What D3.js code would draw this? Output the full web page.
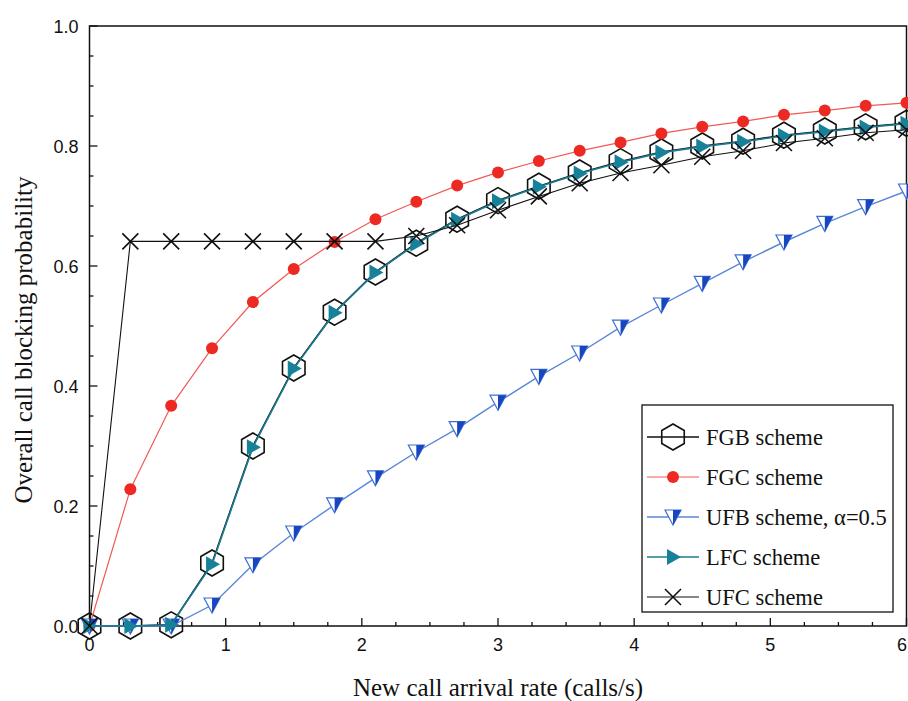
<!DOCTYPE html>
<html>
<head>
<meta charset="utf-8">
<script src="https://cdn.jsdelivr.net/npm/d3@7"></script>
<style>
  html, body { margin: 0; padding: 0; background: #ffffff; }
  svg { display: block; }
</style>
</head>
<body>
<script>
// ---------- data ----------
const xValues = [0, 0.3, 0.6, 0.9, 1.2, 1.5, 1.8, 2.1, 2.4, 2.7, 3.0, 3.3, 3.6, 3.9, 4.2, 4.5, 4.8, 5.1, 5.4, 5.7, 6.0];
const fgb = [0, 0.0, 0.002, 0.105, 0.300, 0.430, 0.523, 0.590, 0.638, 0.678, 0.709, 0.733, 0.755, 0.774, 0.790, 0.800, 0.808, 0.818, 0.825, 0.832, 0.838];
const fgc = [0, 0.228, 0.367, 0.463, 0.540, 0.595, 0.640, 0.678, 0.707, 0.734, 0.756, 0.775, 0.792, 0.806, 0.821, 0.832, 0.841, 0.852, 0.859, 0.867, 0.872];
const ufb = [0, 0.0, 0.0, 0.035, 0.102, 0.155, 0.202, 0.247, 0.290, 0.329, 0.373, 0.416, 0.455, 0.498, 0.535, 0.571, 0.607, 0.640, 0.671, 0.699, 0.725];
const lfc = [0, 0.0, 0.002, 0.103, 0.298, 0.429, 0.522, 0.589, 0.637, 0.677, 0.708, 0.732, 0.754, 0.773, 0.789, 0.799, 0.807, 0.817, 0.824, 0.831, 0.837];
const ufc = [0, 0.641, 0.641, 0.641, 0.641, 0.641, 0.641, 0.641, 0.650, 0.668, 0.693, 0.716, 0.738, 0.755, 0.768, 0.782, 0.792, 0.805, 0.813, 0.822, 0.827];
const xTicks = [0, 1, 2, 3, 4, 5, 6];
const yTicks = [0.0, 0.2, 0.4, 0.6, 0.8, 1.0];
const legendLabels = ["FGB scheme", "FGC scheme", "UFB scheme, \u03b1=0.5", "LFC scheme", "UFC scheme"];

// ---------- layout ----------
const W = 908, H = 701;
const margin = { left: 89.5, right: 1.5, top: 26, bottom: 75 };
const svg = d3.select("body").append("svg").attr("width", W).attr("height", H);

const x = d3.scaleLinear().domain([0, 6]).range([margin.left, W - margin.right]);
const y = d3.scaleLinear().domain([0, 1]).range([H - margin.bottom, margin.top]);

const tickFont = "'Liberation Sans', Arial, sans-serif";
const serif = "'Liberation Serif', 'Times New Roman', serif";

// frame
svg.append("rect")
  .attr("x", x(0)).attr("y", y(1))
  .attr("width", x(6) - x(0)).attr("height", y(0) - y(1))
  .attr("fill", "none").attr("stroke", "#111").attr("stroke-width", 1.5);

// x axis (ticks inward)
const xMinor = d3.range(0, 6.001, 0.25);
const xAxis = svg.append("g").attr("transform", `translate(0,${y(0)})`);
xAxis.selectAll("line.minor").data(xMinor).join("line")
  .attr("x1", d => x(d)).attr("x2", d => x(d))
  .attr("y1", 0).attr("y2", d => (Math.abs(d - Math.round(d)) < 1e-6 ? -8 : -4))
  .attr("stroke", "#111").attr("stroke-width", 1.3);
xAxis.selectAll("text").data(xTicks).join("text")
  .attr("x", d => Math.min(x(d), W - 6)).attr("y", 25)
  .attr("text-anchor", "middle")
  .attr("font-family", tickFont).attr("font-size", 18)
  .attr("fill", "#111")
  .text(d => d3.format("d")(d));

// y axis (ticks inward)
const yMinor = d3.range(0, 1.0001, 0.05);
const yAxis = svg.append("g").attr("transform", `translate(${x(0)},0)`);
yAxis.selectAll("line").data(yMinor).join("line")
  .attr("y1", d => y(d)).attr("y2", d => y(d))
  .attr("x1", 0).attr("x2", d => (Math.abs(d * 5 - Math.round(d * 5)) < 1e-6 ? 8 : 4))
  .attr("stroke", "#111").attr("stroke-width", 1.3);
yAxis.selectAll("text").data(yTicks).join("text")
  .attr("x", -11).attr("y", d => y(d) + 6.5)
  .attr("text-anchor", "end")
  .attr("font-family", tickFont).attr("font-size", 18)
  .attr("fill", "#111")
  .text(d => d3.format(".1f")(d));

// axis titles
svg.append("text")
  .attr("x", 498).attr("y", 696)
  .attr("text-anchor", "middle")
  .attr("font-family", serif).attr("font-size", 25).attr("fill", "#111")
  .text("New call arrival rate (calls/s)");
svg.append("text")
  .attr("transform", `translate(32,340) rotate(-90)`)
  .attr("text-anchor", "middle")
  .attr("font-family", serif).attr("font-size", 25).attr("fill", "#111")
  .text("Overall call blocking probability");

// ---------- marker drawers ----------
function hexPath(r) {
  const pts = d3.range(6).map(i => {
    const a = Math.PI / 2 + i * Math.PI / 3;
    return [r * Math.cos(a), r * Math.sin(a)];
  });
  return "M" + pts.map(p => p.join(",")).join("L") + "Z";
}
const markers = {
  hex: (g) => g.append("path").attr("d", hexPath(13)).attr("fill", "none").attr("stroke", "#111").attr("stroke-width", 1.6),
  dot: (g) => g.append("circle").attr("r", 6).attr("fill", "#ec2a23").attr("stroke", "none"),
  tri: (g) => {
    g.append("path").attr("d", "M-8,-7L8,-7L0,8Z").attr("fill", "#ffffff").attr("stroke", "#3c6fd0").attr("stroke-width", 1.2);
    g.append("path").attr("d", "M0,-7L8,-7L0,8Z").attr("fill", "#1846c0").attr("stroke", "none");
  },
  right: (g) => g.append("path").attr("d", "M-6,-8L8,0L-6,8Z").attr("fill", "#17819a").attr("stroke", "none"),
  cross: (g) => g.append("path").attr("d", "M-8,-8L8,8M-8,8L8,-8").attr("fill", "none").attr("stroke", "#111").attr("stroke-width", 1.6)
};

const series = [
  { name: legendLabels[0], values: fgb, color: "#111", width: 1.6, marker: "hex" },
  { name: legendLabels[1], values: fgc, color: "#f05a55", width: 1.2, marker: "dot" },
  { name: legendLabels[2], values: ufb, color: "#5b86d6", width: 1.4, marker: "tri" },
  { name: legendLabels[3], values: lfc, color: "#1a7d92", width: 1.6, marker: "right" },
  { name: legendLabels[4], values: ufc, color: "#111", width: 1.1, marker: "cross" }
];

const line = d3.line().x(d => x(d[0])).y(d => y(d[1]));

series.forEach(s => {
  const pts = xValues.map((xv, i) => [xv, s.values[i]]);
  svg.append("path").datum(pts)
    .attr("d", line)
    .attr("fill", "none").attr("stroke", s.color).attr("stroke-width", s.width);
  const g = svg.append("g");
  pts.forEach(p => {
    const m = g.append("g").attr("transform", `translate(${x(p[0])},${y(p[1])})`);
    markers[s.marker](m);
  });
});

// ---------- legend ----------
const lg = svg.append("g");
lg.append("rect").attr("x", 642).attr("y", 405).attr("width", 251).attr("height", 207)
  .attr("fill", "#fff").attr("stroke", "#111").attr("stroke-width", 1.3);
series.forEach((s, i) => {
  const cy = 437 + i * 40;
  lg.append("line").attr("x1", 647).attr("x2", 699).attr("y1", cy).attr("y2", cy)
    .attr("stroke", s.color).attr("stroke-width", s.width);
  const m = lg.append("g").attr("transform", `translate(673,${cy})`);
  markers[s.marker](m);
  lg.append("text").attr("x", 706).attr("y", cy + 7.5)
    .attr("font-family", serif).attr("font-size", 22.5).attr("fill", "#111")
    .text(s.name);
});
</script>
</body>
</html>
